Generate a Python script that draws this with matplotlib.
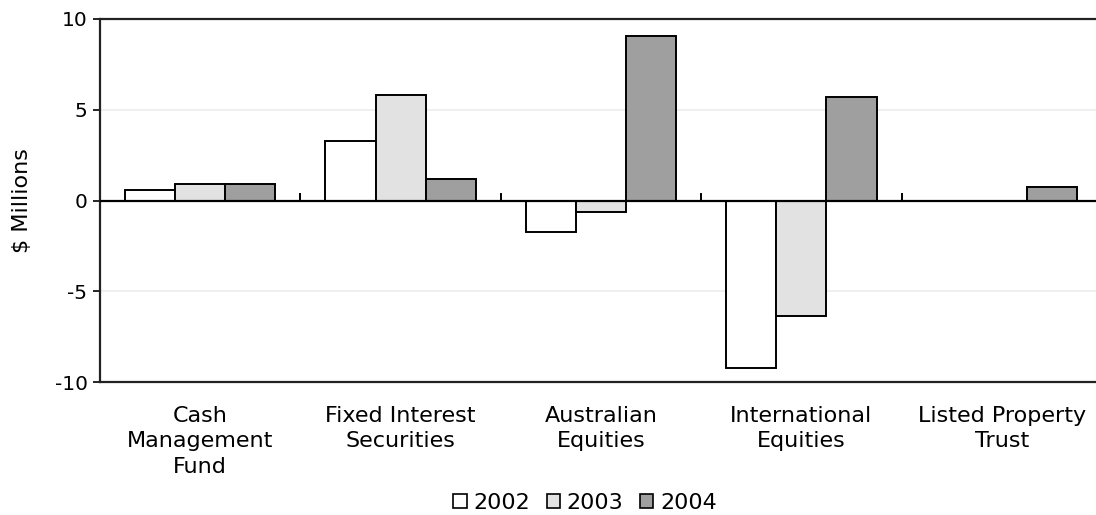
import matplotlib
matplotlib.use("Agg")
import matplotlib.pyplot as plt
from matplotlib.patches import Patch
import numpy as np

categories = ["Cash\nManagement\nFund", "Fixed Interest\nSecurities", "Australian\nEquities",
              "International\nEquities", "Listed Property\nTrust"]
years = ["2002", "2003", "2004"]
values_2002 = [0.57, 3.30, -1.76, -9.24, 0.0]
values_2003 = [0.90, 5.84, -0.62, -6.37, 0.0]
values_2004 = [0.90, 1.21, 9.06, 5.73, 0.77]
series = [values_2002, values_2003, values_2004]
colors = ["#ffffff", "#e2e2e2", "#9f9f9f"]

plt.rcParams["font.family"] = ["DejaVu Sans"]

W, H = 1096, 515
fig = plt.figure(figsize=(W / 100, H / 100), dpi=100)
left, right, top, bottom = 100, 1102, 19, 382
ax = fig.add_axes([left / W, 1 - bottom / H, (right - left) / W, (bottom - top) / H])

x = np.arange(len(categories))
width = 0.25
for i, (vals, col) in enumerate(zip(series, colors)):
    ax.bar(x + (i - 1) * width, vals, width, color=col, edgecolor="black",
           linewidth=1.4, zorder=3, label=years[i])

ax.set_xlim(-0.5, len(categories) - 0.5)
ax.set_ylim(-10, 10)
ax.set_yticks([-10, -5, 0, 5, 10])
ax.set_yticklabels(["-10", "-5", "0", "5", "10"])
ax.tick_params(axis="y", direction="out", length=5, width=1.2, labelsize=14.5, pad=4)

ax.set_xticks(x)
ax.set_xticklabels(categories, fontsize=16, linespacing=1.36)
ax.tick_params(axis="x", length=0, pad=17)

# light horizontal gridlines
ax.yaxis.grid(True, color="#ececec", linewidth=1.2, zorder=0)
ax.set_axisbelow(True)

for s in ["top", "left", "bottom"]:
    ax.spines[s].set_linewidth(1.6)
    ax.spines[s].set_color("#222222")
ax.spines["right"].set_visible(False)

# zero axis with category separator ticks
ax.axhline(0, color="black", linewidth=1.6, zorder=4)
zero_axis = ax.secondary_xaxis(0.5)
zero_axis.set_xticks(np.arange(len(categories) + 1) - 0.5)
zero_axis.set_xticklabels([])
zero_axis.tick_params(direction="out", length=5, width=1.4, color="black")
zero_axis.spines["top"].set_visible(False)
zero_axis.spines["bottom"].set_visible(False)

ax.set_ylabel("$ Millions", fontsize=16, labelpad=16)

handles = [Patch(facecolor=c, edgecolor="black", linewidth=1.2) for c in colors]
fig.legend(handles, years, loc="center", bbox_to_anchor=(585 / W, 1 - 503 / H),
           ncol=3, frameon=False, fontsize=16, handlelength=0.6, handleheight=0.6,
           handletextpad=0.3, columnspacing=0.75, borderpad=0.1)

fig.savefig("out.png", dpi=100)
